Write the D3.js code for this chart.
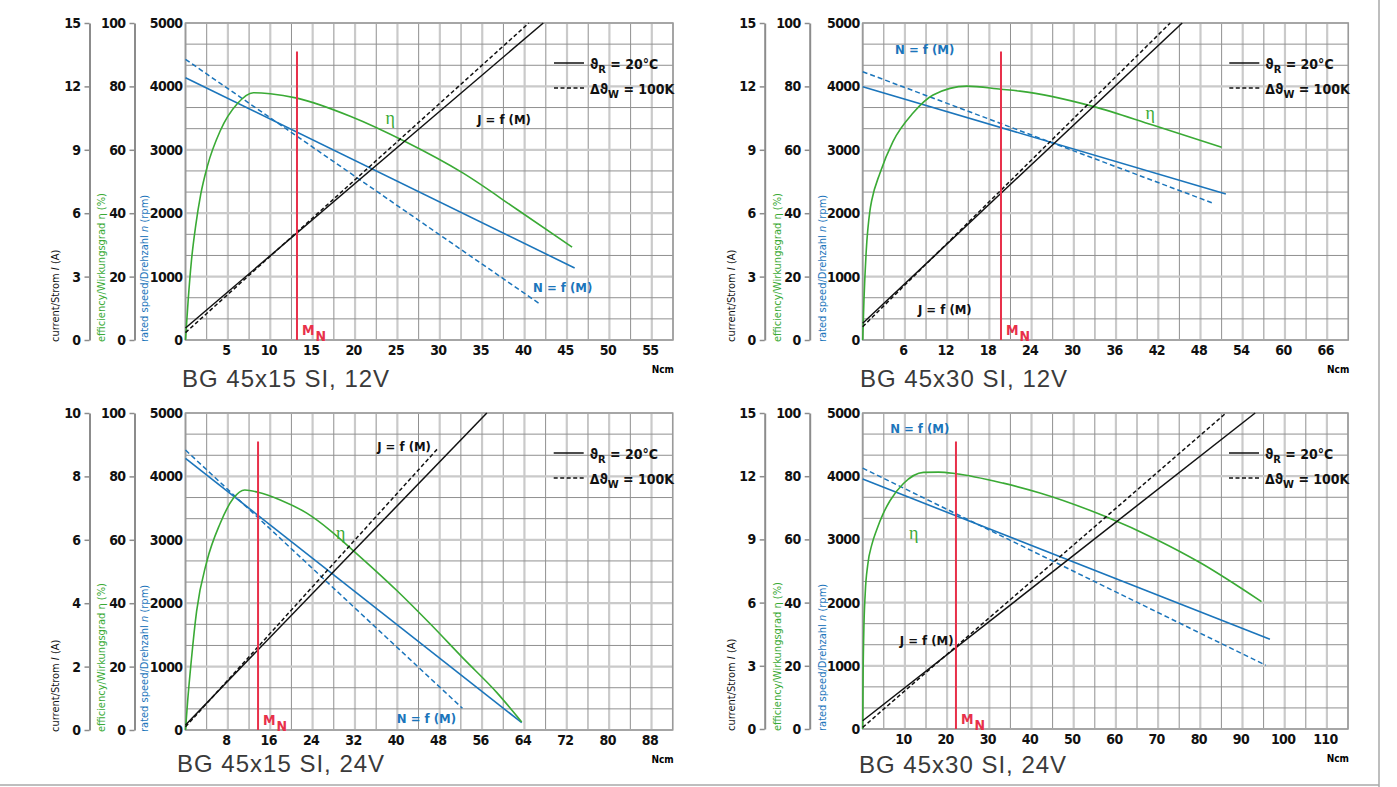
<!DOCTYPE html>
<html>
<head>
<meta charset="utf-8">
<script src="https://cdn.jsdelivr.net/npm/d3@7"></script>
<style>
  body { margin: 0; background: #fff; }
  text { font-family: "DejaVu Sans Condensed", "Liberation Sans Narrow", "Arial Narrow", sans-serif; }
</style>
</head>
<body>
<svg id="chart"></svg>
<script>
const titles = ['BG 45x15 SI, 12V', 'BG 45x30 SI, 12V', 'BG 45x15 SI, 24V', 'BG 45x30 SI, 24V'];
const xMaxValues = [57.5, 69, 92, 115];          // Ncm at right edge of grid
const currentMax = [15, 15, 10, 15];             // A
const ratedTorque = [13.15, 19.65, 13.7, 22.1];  // M_N in Ncm
const ratedLineTop = 4550;                       // rpm where the M_N marker starts

const xTicksTL = [5, 10, 15, 20, 25, 30, 35, 40, 45, 50, 55];
const xTicksTR = [6, 12, 18, 24, 30, 36, 42, 48, 54, 60, 66];
const xTicksBL = [8, 16, 24, 32, 40, 48, 56, 64, 72, 80, 88];
const xTicksBR = [10, 20, 30, 40, 50, 60, 70, 80, 90, 100, 110];
const currentTicks15 = [0, 3, 6, 9, 12, 15];
const currentTicks10 = [0, 2, 4, 6, 8, 10];
const effTicks = [0, 20, 40, 60, 80, 100];
const speedTicks = [0, 1000, 2000, 3000, 4000, 5000];

// speed n (rpm) vs torque M (Ncm): 20°C solid, 100K dashed
const speed20TL = [[0, 4137], [45.9, 1136]];
const speed100TL = [[0, 4427], [41.8, 568]];
const speed20TR = [[0, 3995], [51.6, 2303]];
const speed100TR = [[0, 4232], [49.6, 2166]];
const speed20BL = [[0, 4285], [63.5, 115]];
const speed100BL = [[0, 4416], [52.3, 342]];
const speed20BR = [[0, 3954], [96.5, 1420]];
const speed100BR = [[0, 4128], [95.5, 1009]];

// current I (A) vs torque
const current20TL = [[0, 0.57], [42.2, 15]];
const current100TL = [[0, 0.35], [40.5, 15]];
const current20TR = [[0, 0.79], [45.4, 15]];
const current100TR = [[0, 0.63], [43.7, 15]];
const current20BL = [[0, 0.16], [56.9, 10]];
const current100BL = [[0, 0.1], [47.7, 8.89]];
const current20BR = [[0, 0.39], [93, 15]];
const current100BR = [[0, 0.08], [86.1, 15]];

// efficiency eta (%) vs torque
const effTL = [[0, 0], [0.3, 12], [0.7, 25], [1.2, 36], [1.8, 46], [2.6, 55], [4.1, 66], [6.1, 74.5],
  [8.0, 78], [10.0, 77.7], [13.15, 76.3], [19.5, 70.5], [25.9, 62.6], [32.7, 52.7], [39.2, 41], [45.6, 29.3]];
const effTR = [[0, 0], [0.18, 12.6], [0.5, 28], [1.04, 41], [1.28, 44], [2.46, 52.7], [4.3, 62.6],
  [7.15, 71.6], [10, 77.3], [14.8, 80.1], [19.65, 79.1], [22.35, 78.5], [32.7, 73.7], [41.2, 67.8], [51.0, 60.8]];
const effBL = [[0, 0], [0.4, 9], [1.1, 22], [2.1, 37.5], [4.0, 53], [6.5, 65], [9.0, 73], [11.2, 75.7],
  [13.7, 75.0], [18, 72.5], [22.9, 68.4], [27.3, 63], [31.4, 57], [39.9, 44], [46.2, 33.5], [52.5, 22.5],
  [58.8, 11.8], [63.5, 2.5]];
const effBR = [[0, 0], [0.08, 15], [0.25, 30], [0.6, 43], [1.2, 52], [2.2, 58.5], [3.3, 63], [4.8, 68],
  [6.5, 72.3], [9.6, 77.6], [14.4, 81.2], [18, 81.3], [22.1, 80.8], [33.3, 77.8], [42, 74.7], [57.4, 67.3],
  [69.7, 59.9], [80, 52.6], [94.5, 40.3]];

// ---- page layout ----
const width = 1397, height = 787;
const layout = [
  { left: 185.5, top: 23, w: 487.5, h: 317, curOff: 96, effOff: 51, titleX: 182, titleY: 387,
    labels: { eta: [23.6, 3407], J: [34.4, 3407], N: [41.0, 757] } },
  { left: 862.7, top: 23, w: 485.6, h: 317, curOff: 98, effOff: 53, titleX: 860, titleY: 387,
    labels: { eta: [40.2, 3486], J: [7.85, 410], N: [4.6, 4511] } },
  { left: 185.5, top: 413, w: 487.2, h: 317, curOff: 96, effOff: 51, titleX: 177, titleY: 772,
    labels: { eta: [28.4, 3013], J: [36.2, 4400], N: [39.9, 110] } },
  { left: 862.7, top: 413, w: 485.3, h: 316, curOff: 98, effOff: 53, titleX: 859, titleY: 773,
    labels: { eta: [11.0, 3013], J: [8.8, 1325], N: [6.5, 4685] } }
];

const panelData = [
  { xTicks: xTicksTL, cTicks: currentTicks15, s20: speed20TL, s100: speed100TL, c20: current20TL, c100: current100TL, eff: effTL },
  { xTicks: xTicksTR, cTicks: currentTicks15, s20: speed20TR, s100: speed100TR, c20: current20TR, c100: current100TR, eff: effTR },
  { xTicks: xTicksBL, cTicks: currentTicks10, s20: speed20BL, s100: speed100BL, c20: current20BL, c100: current100BL, eff: effBL },
  { xTicks: xTicksBR, cTicks: currentTicks15, s20: speed20BR, s100: speed100BR, c20: current20BR, c100: current100BR, eff: effBR }
];

const GREEN = '#3aaa35', BLUE = '#1b75bb', BLACK = '#111', RED = '#e8304a';

const svg = d3.select('#chart')
  .attr('width', width)
  .attr('height', height);

// outer frame lines of the sheet
svg.append('line').attr('x1', 1379).attr('x2', 1379).attr('y1', 0).attr('y2', height)
  .attr('stroke', '#a8a8a8').attr('stroke-width', 1.5);
svg.append('line').attr('x1', 0).attr('x2', 1379).attr('y1', 785).attr('y2', 785)
  .attr('stroke', '#a8a8a8').attr('stroke-width', 1.5);

layout.forEach((L, i) => {
  const D = panelData[i];
  const g = svg.append('g');
  const bottom = L.top + L.h, right = L.left + L.w;

  const x = d3.scaleLinear().domain([0, xMaxValues[i]]).range([L.left, right]);
  const yN = d3.scaleLinear().domain([0, 5000]).range([bottom, L.top]);
  const yI = d3.scaleLinear().domain([0, currentMax[i]]).range([bottom, L.top]);
  const yE = d3.scaleLinear().domain([0, 100]).range([bottom, L.top]);

  // grid: 23 columns, 15 rows; every other column / every third row lighter and thicker
  const cols = d3.range(0, 24).map(k => k * xMaxValues[i] / 23);
  const rows = d3.range(0, 16).map(k => k * 5000 / 15);
  g.selectAll('.vg').data(cols).enter().append('line')
    .attr('x1', d => x(d)).attr('x2', d => x(d))
    .attr('y1', L.top).attr('y2', bottom)
    .attr('stroke', (d, k) => k % 2 === 0 ? '#cacaca' : '#909090')
    .attr('stroke-width', (d, k) => k % 2 === 0 ? 2.2 : 1);
  g.selectAll('.hg').data(rows).enter().append('line')
    .attr('x1', L.left).attr('x2', right)
    .attr('y1', d => yN(d)).attr('y2', d => yN(d))
    .attr('stroke', (d, k) => k % 3 === 0 ? '#cacaca' : '#909090')
    .attr('stroke-width', (d, k) => k % 3 === 0 ? 2.2 : 1);
  g.append('rect')
    .attr('x', L.left).attr('y', L.top).attr('width', L.w).attr('height', L.h)
    .attr('fill', 'none').attr('stroke', '#9a9a9a').attr('stroke-width', 1.5);

  const tickFont = sel => sel.selectAll('text')
    .attr('font-size', '14px').attr('font-weight', 'bold').attr('fill', BLACK)
    .attr('letter-spacing', '-0.6px')
    .style('font-family', '"DejaVu Sans Condensed", "Liberation Sans Narrow", sans-serif');

  // current axis
  const ca = g.append('g').attr('transform', `translate(${L.left - L.curOff},0)`)
    .call(d3.axisLeft(yI).tickValues(D.cTicks).tickSize(5).tickSizeOuter(0).tickPadding(4).tickFormat(d3.format('d')));
  ca.select('.domain').attr('stroke', '#8c8c8c').attr('stroke-width', 2);
  ca.selectAll('.tick line').attr('stroke', '#8c8c8c').attr('stroke-width', 1.5);
  tickFont(ca);

  // efficiency axis
  const ea = g.append('g').attr('transform', `translate(${L.left - L.effOff},0)`)
    .call(d3.axisLeft(yE).tickValues(effTicks).tickSize(5).tickSizeOuter(0).tickPadding(4).tickFormat(d3.format('d')));
  ea.select('.domain').attr('stroke', '#8c8c8c').attr('stroke-width', 2);
  ea.selectAll('.tick line').attr('stroke', '#8c8c8c').attr('stroke-width', 1.5);
  tickFont(ea);

  // speed axis (plot border)
  const sa = g.append('g').attr('transform', `translate(${L.left},0)`)
    .call(d3.axisLeft(yN).tickValues(speedTicks).tickSize(0).tickPadding(3).tickFormat(d3.format('d')));
  sa.select('.domain').remove();
  tickFont(sa);

  // x axis
  const xa = g.append('g').attr('transform', `translate(0,${bottom})`)
    .call(d3.axisBottom(x).tickValues(D.xTicks).tickSize(0).tickPadding(5).tickFormat(d3.format('d')));
  xa.select('.domain').remove();
  tickFont(xa);
  xa.selectAll('text').attr('dx', -2);

  g.append('text')
    .attr('x', right + 1).attr('y', bottom + 33)
    .attr('text-anchor', 'end').attr('font-size', '10px').attr('font-weight', 'bold')
    .text('Ncm');

  // rotated axis titles
  const axisTitle = (xPos, color, parts) => {
    const t = g.append('text')
      .attr('transform', `translate(${xPos},${bottom + 2}) rotate(-90)`)
      .attr('dy', '0.35em')
      .attr('font-size', '11px')
      .attr('fill', color);
    parts.forEach(p => t.append('tspan').attr('font-style', p[1] ? 'italic' : 'normal').text(p[0]));
  };
  axisTitle(L.left - L.curOff - 34, BLACK, [['current/Strom ', false], ['I', true], [' (A)', false]]);
  axisTitle(L.left - L.effOff - 33, GREEN, [['efficiency/Wirkungsgrad η (%)', false]]);
  axisTitle(L.left - 41, BLUE, [['rated speed/Drehzahl ', false], ['n', true], [' (rpm)', false]]);

  // curves
  const lineN = d3.line().x(d => x(d[0])).y(d => yN(d[1]));
  const lineI = d3.line().x(d => x(d[0])).y(d => yI(d[1]));
  const lineE = d3.line().x(d => x(d[0])).y(d => yE(d[1])).curve(d3.curveMonotoneX);

  g.append('path').attr('d', lineN(D.s100)).attr('fill', 'none')
    .attr('stroke', BLUE).attr('stroke-width', 1.5).attr('stroke-dasharray', '5,3');
  g.append('path').attr('d', lineN(D.s20)).attr('fill', 'none')
    .attr('stroke', BLUE).attr('stroke-width', 1.6);
  g.append('path').attr('d', lineE(D.eff)).attr('fill', 'none')
    .attr('stroke', GREEN).attr('stroke-width', 1.6);
  g.append('path').attr('d', lineI(D.c100)).attr('fill', 'none')
    .attr('stroke', BLACK).attr('stroke-width', 1.5).attr('stroke-dasharray', '4,2.5');
  g.append('path').attr('d', lineI(D.c20)).attr('fill', 'none')
    .attr('stroke', BLACK).attr('stroke-width', 1.5);

  // rated torque marker
  g.append('line')
    .attr('x1', x(ratedTorque[i])).attr('x2', x(ratedTorque[i]))
    .attr('y1', yN(ratedLineTop)).attr('y2', bottom)
    .attr('stroke', RED).attr('stroke-width', 2);
  const mn = g.append('text')
    .attr('x', x(ratedTorque[i]) + 5).attr('y', bottom - 5)
    .attr('font-size', '14px').attr('font-weight', 'bold').attr('fill', RED);
  mn.append('tspan').text('M');
  mn.append('tspan').attr('dx', 1).attr('dy', 6).text('N');

  // curve labels
  const lb = L.labels;
  g.append('text').attr('x', x(lb.eta[0])).attr('y', yN(lb.eta[1]))
    .style('font-family', '"Liberation Serif", serif').attr('font-size', '18px')
    .attr('fill', GREEN).text('η');
  g.append('text').attr('x', x(lb.J[0])).attr('y', yN(lb.J[1]))
    .attr('font-size', '13px').attr('font-weight', 'bold').attr('fill', BLACK).text('J = f (M)');
  g.append('text').attr('x', x(lb.N[0])).attr('y', yN(lb.N[1]))
    .attr('font-size', '13px').attr('font-weight', 'bold').attr('fill', BLUE).text('N = f (M)');

  // legend
  const lx = right - 119;
  g.append('line').attr('x1', lx).attr('x2', lx + 30).attr('y1', L.top + 40).attr('y2', L.top + 40)
    .attr('stroke', BLACK).attr('stroke-width', 1.5);
  g.append('line').attr('x1', lx).attr('x2', lx + 30).attr('y1', L.top + 65).attr('y2', L.top + 65)
    .attr('stroke', BLACK).attr('stroke-width', 1.5).attr('stroke-dasharray', '4,2.5');
  const t1 = g.append('text').attr('x', lx + 36).attr('y', L.top + 46)
    .attr('font-size', '14px').attr('font-weight', 'bold').attr('fill', BLACK);
  t1.append('tspan').text('ϑ');
  t1.append('tspan').attr('dy', 4).attr('font-size', '11px').text('R');
  t1.append('tspan').attr('dy', -4).text(' = 20°C');
  const t2 = g.append('text').attr('x', lx + 36).attr('y', L.top + 71)
    .attr('font-size', '14px').attr('font-weight', 'bold').attr('fill', BLACK);
  t2.append('tspan').text('Δϑ');
  t2.append('tspan').attr('dy', 4).attr('font-size', '11px').text('W');
  t2.append('tspan').attr('dy', -4).text(' = 100K');

  // panel title
  svg.append('text')
    .attr('x', L.titleX).attr('y', L.titleY)
    .style('font-family', '"Liberation Sans", Arial, sans-serif')
    .attr('font-size', '24px').attr('letter-spacing', '1px').attr('fill', '#3a3a3a')
    .text(titles[i]);
});
</script>
</body>
</html>
